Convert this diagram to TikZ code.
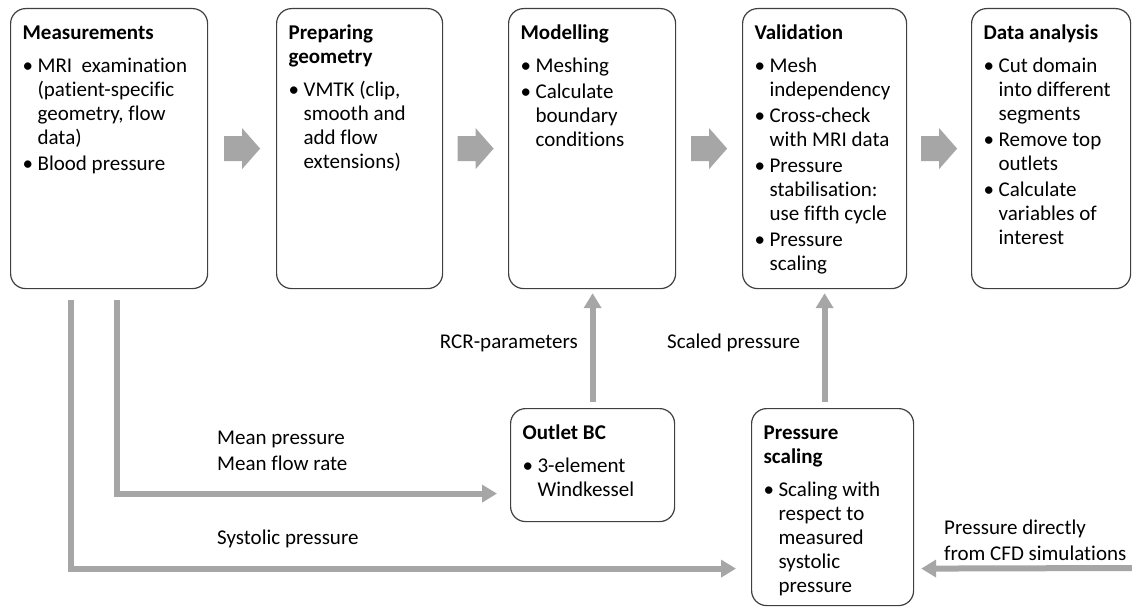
\documentclass[tikz,border=0pt]{standalone}
\usepackage{fontspec}
\setmainfont{Carlito}[Ligatures=NoCommon]
\usetikzlibrary{calc,arrows.meta}
\definecolor{arrowgray}{HTML}{A6A6A6}
\definecolor{boxline}{HTML}{404040}

\newcommand\stagetitle[1]{\rule{0pt}{30.8pt}\textbf{#1}\par\vspace{7pt}}
\newcommand\itm[1]{\par\vspace{2pt}\hangindent=15pt\hangafter=1\noindent\hbox to 15pt{\textbullet\hss}#1}
\newcommand\stagebox[6]{%
  \node[stage, minimum width=#4pt, minimum height=#5pt, anchor=north west] (#1) at (#2,#3)
  {\begin{minipage}[c][#5pt][t]{\dimexpr#4pt-24pt\relax}\raggedright\parskip=0pt #6\end{minipage}};}
\newcommand\blockarrow[3]{%
  \coordinate (#1) at ($(#2.east)!0.5!(#3.west)$);
  \fill[arrowgray] ($(#1)+(-18,-12.5)$) -- ($(#1)+(0,-12.5)$) -- ($(#1)+(0,-20.5)$)
    -- ($(#1)+(18,0)$) -- ($(#1)+(0,20.5)$) -- ($(#1)+(0,12.5)$)
    -- ($(#1)+(-18,12.5)$) -- cycle;}

\begin{document}
\begin{tikzpicture}[x=1pt,y=-1pt,
  stage/.style={draw=boxline, line width=1.2pt, rounded corners=15pt, inner sep=0pt,
    fill=white, font=\fontsize{21pt}{24pt}\selectfont},
  lab/.style={font=\fontsize{21pt}{26pt}\selectfont, inner sep=0pt, align=left},
  conn/.style={draw=arrowgray, line width=6pt, line join=miter,
    -{Triangle[width=17pt,length=15pt]}}]
\useasboundingbox[fill=white] (0,0) rectangle (1132,607);

\stagebox{meas}{10}{8}{197}{280}{\stagetitle{Measurements}%
  \itm{MRI\ \ examination\newline (patient-specific\newline geometry, flow\newline data)}%
  \itm{Blood pressure}}
\stagebox{prep}{276}{8}{166}{280}{\stagetitle{Preparing\newline geometry}%
  \itm{VMTK (clip,\newline smooth and\newline add flow\newline extensions)}}
\stagebox{model}{508}{8}{167}{280}{\stagetitle{Modelling}%
  \itm{Meshing}\itm{Calculate\newline boundary\newline conditions}}
\stagebox{valid}{742}{8}{164}{280}{\stagetitle{Validation}%
  \itm{Mesh\newline independency}\itm{Cross-check\newline with MRI data}%
  \itm{Pressure\newline stabilisation:\newline use fifth cycle}\itm{Pressure\newline scaling}}
\stagebox{data}{971}{8}{159}{280}{\stagetitle{Data analysis}%
  \itm{Cut domain\newline into different\newline segments}\itm{Remove top\newline outlets}%
  \itm{Calculate\newline variables of\newline interest}}
\stagebox{outlet}{510}{408}{164}{113}{\stagetitle{Outlet BC}%
  \itm{3-element\newline Windkessel}}
\stagebox{pscale}{751}{408}{162}{197}{\stagetitle{Pressure\newline scaling}%
  \itm{Scaling with\newline respect to\newline measured\newline systolic\newline pressure}}

\blockarrow{a1}{meas}{prep}
\blockarrow{a2}{prep}{model}
\blockarrow{a3}{model}{valid}
\blockarrow{a4}{valid}{data}

\coordinate (cfd) at (1132,568);
\draw[conn] ([xshift=61pt,yshift=-11pt]meas.south west) |- ([yshift=-61.5pt,xshift=-15pt]pscale.west);
\draw[conn] ([xshift=107pt,yshift=-11pt]meas.south west) |- ([yshift=-28.5pt,xshift=-13pt]outlet.west);
\draw[conn] ([yshift=6pt]outlet.north) -- ([yshift=-4pt]outlet.north |- model.south);
\draw[conn] ([yshift=6pt]pscale.north -| valid.south) -- ([yshift=-4pt]valid.south);
\draw[conn] (cfd) -- ([xshift=7pt,yshift=-61.5pt]pscale.east);

\node[lab, anchor=west] (lmean) at (217,451) {Mean pressure\\Mean flow rate};
\node[lab, anchor=west] (lsys) at (217,539) {Systolic pressure};
\node[lab, anchor=east] (lrcr) at (578,343) {RCR-parameters};
\node[lab, anchor=west] (lscaled) at (667,343) {Scaled pressure};
\node[lab, anchor=west] (lcfd) at (944,540) {Pressure directly\\from CFD simulations};
\end{tikzpicture}
\end{document}
